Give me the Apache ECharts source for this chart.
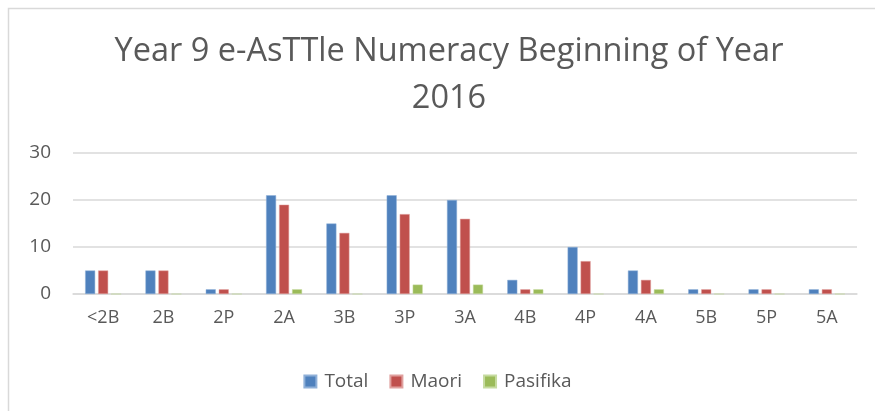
<!DOCTYPE html>
<html>
<head>
<meta charset="utf-8">
<script src="https://cdn.jsdelivr.net/npm/echarts@6/dist/echarts.min.js"></script>
<style>
  html, body { margin: 0; padding: 0; background: #fff; }
  #chart { width: 875px; height: 411px; }
</style>
</head>
<body>
<div id="chart"></div>
<script>
// 数据
const categories = ['<2B', '2B', '2P', '2A', '3B', '3P', '3A', '4B', '4P', '4A', '5B', '5P', '5A'];
const totalData = [5, 5, 1, 21, 15, 21, 20, 3, 10, 5, 1, 1, 1];
const maoriData = [5, 5, 1, 19, 13, 17, 16, 1, 7, 3, 1, 1, 1];
const pasifikaData = [0, 0, 0, 1, 0, 2, 2, 1, 0, 1, 0, 0, 0];
const yTicks = [0, 10, 20, 30];

const textColor = '#595959';
const fontFamily = '"Open Sans", "Noto Sans", sans-serif';

let myChart = echarts.init(document.getElementById('chart'));
myChart.setOption({
  animation: false,
  title: {
    text: 'Year 9 e-AsTTle Numeracy Beginning of Year\n2016',
    left: 444,
    top: 23,
    textAlign: 'center',
    textStyle: {
      color: textColor,
      fontFamily: fontFamily,
      fontWeight: 'normal',
      fontSize: 32.5,
      lineHeight: 47
    }
  },
  graphic: [{
    type: 'rect',
    shape: { x: 8.5, y: 8.5, width: 1000, height: 600 },
    style: { fill: 'none', stroke: '#d9d9d9', lineWidth: 1.5 },
    silent: true
  }],
  legend: {
    data: ['Total', 'Maori', 'Pasifika'],
    left: 'center',
    top: 367,
    icon: 'rect',
    itemWidth: 12,
    itemHeight: 12,
    itemGap: 21,
    textStyle: { color: textColor, fontFamily: fontFamily, fontSize: 19, padding: [0, 0, 0, 3] }
  },
  grid: {
    left: 73,
    right: 18,
    top: 153,
    bottom: 117
  },
  xAxis: {
    type: 'category',
    data: categories,
    axisLine: { lineStyle: { color: '#d9d9d9', width: 1.5 } },
    axisTick: { show: false },
    axisLabel: { color: textColor, fontFamily: fontFamily, fontSize: 18, margin: 15 }
  },
  yAxis: {
    type: 'value',
    min: yTicks[0],
    max: yTicks[yTicks.length - 1],
    interval: 10,
    axisLine: { show: false },
    axisTick: { show: false },
    splitLine: { lineStyle: { color: '#d9d9d9', width: 1.5 } },
    axisLabel: { color: textColor, fontFamily: fontFamily, fontSize: 19, margin: 22 }
  },
  series: [
    {
      name: 'Total',
      type: 'bar',
      data: totalData,
      barWidth: 10,
      barGap: '30%',
      itemStyle: { color: '#4f81bd', borderColor: '#8fb0d8', borderWidth: 0.5 }
    },
    {
      name: 'Maori',
      type: 'bar',
      data: maoriData,
      barWidth: 10,
      barGap: '30%',
      itemStyle: { color: '#c0504d', borderColor: '#e0a09e', borderWidth: 0.5 }
    },
    {
      name: 'Pasifika',
      type: 'bar',
      data: pasifikaData,
      barWidth: 10,
      barGap: '30%',
      itemStyle: { color: '#9bbb59', borderColor: '#c6dba0', borderWidth: 0.5 }
    }
  ]
});
</script>
</body>
</html>
